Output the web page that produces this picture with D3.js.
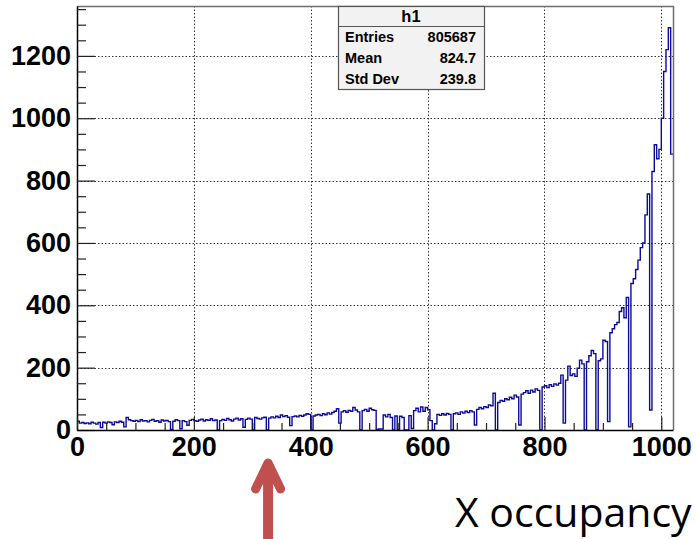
<!DOCTYPE html>
<html>
<head>
<meta charset="utf-8">
<script src="https://cdn.jsdelivr.net/npm/d3@7/dist/d3.min.js"></script>
<style>
  html, body { margin: 0; padding: 0; background: #fff; }
  svg { display: block; }
  .lab { font-family: "Liberation Sans", Arial, Helvetica, sans-serif; font-weight: bold; }
</style>
</head>
<body>
<svg id="chart" width="696" height="539"></svg>
<script>
// Histogram h1: occupancy per channel, 4-channel bins starting at 0
const binLow = 0;
const binWidth = 4;
const counts = [
  28, 22, 24, 21, 23, 20, 25, 22, 19, 24,
  8, 25, 22, 26, 24, 17, 26, 24, 28, 25,
  10, 40, 33, 30, 28, 31, 27, 33, 29, 30,
  26, 31, 34, 28, 30, 25, 32, 29, 31, 27,
  2, 28, 33, 30, 4, 30, 27, 15, 31, 34,
  30, 28, 32, 35, 29, 33, 31, 36, 30, 32,
  0, 30, 34, 31, 37, 33, 29, 35, 38, 32,
  36, 9, 34, 38, 35, 0, 40, 37, 35, 39,
  41, 0, 38, 42, 39, 44, 40, 48, 43, 46,
  41, 14, 43, 45, 42, 47, 44, 48, 52, 50,
  0, 45, 48, 50, 46, 52, 49, 55, 51, 56,
  60, 68, 22, 58, 62, 57, 63, 60, 72, 64,
  58, 0, 62, 66, 60, 70, 65, 63, 2, 3,
  3, 48, 42, 50, 40, 0, 45, 0, 44, 40,
  0, 0, 46, 5, 62, 70, 58, 74, 60, 72,
  65, 30, 0, 20, 50, 47, 52, 48, 53, 50,
  0, 52, 55, 50, 58, 54, 60, 56, 62, 58,
  16, 66, 72, 68, 75, 72, 80, 78, 118, 0,
  88, 95, 92, 100, 97, 105, 100, 112, 106, 16,
  115, 120, 126, 118, 128, 122, 132, 127, 0, 138,
  142, 136, 145, 140, 148, 144, 150, 176, 22, 160,
  205, 175, 180, 172, 198, 224, 212, 0, 219, 238,
  255, 245, 0, 222, 228, 288, 284, 27, 312, 325,
  338, 345, 380, 392, 360, 425, 10, 470, 485, 515,
  545, 585, 600, 690, 757, 64, 829, 915, 870, 900,
  1000, 1150, 1220, 1290, 885
];

// Axis ticks and labels
const xTicks = [0, 200, 400, 600, 800, 1000];
const xMinorTicks = [50, 100, 150, 250, 300, 350, 450, 500, 550, 650, 700, 750, 850, 900, 950];
const yTicks = [0, 200, 400, 600, 800, 1000, 1200];
const yMinorTicks = [50, 100, 150, 250, 300, 350, 450, 500, 550, 650, 700, 750, 850, 900, 950, 1050, 1100, 1150, 1250, 1300, 1350];
const yRangeMax = 1360;

// Statistics box
const statTitle = "h1";
const statNames = ["Entries", "Mean", "Std Dev"];
const statValues = ["805687", "824.7", "239.8"];

const xTitle = "X occupancy";

const frame = { left: 77, right: 673, top: 6, bottom: 430 };
const svg = d3.select("#chart");

const xMax = binLow + counts.length * binWidth;
const x = d3.scaleLinear().domain([binLow, xMax]).range([frame.left, frame.right]);
const y = d3.scaleLinear().domain([0, yRangeMax]).range([frame.bottom, frame.top]);

// dotted grid at major ticks
const grid = svg.append("g")
  .attr("stroke", "#333").attr("stroke-width", 1).attr("stroke-dasharray", "1.5,2");
grid.selectAll("line.gx").data(xTicks.filter(d => d > 0)).join("line")
  .attr("x1", d => Math.round(x(d)) + 0.5).attr("x2", d => Math.round(x(d)) + 0.5)
  .attr("y1", frame.top).attr("y2", frame.bottom);
grid.selectAll("line.gy").data(yTicks.filter(d => d > 0)).join("line")
  .attr("y1", d => Math.round(y(d)) + 0.5).attr("y2", d => Math.round(y(d)) + 0.5)
  .attr("x1", frame.left).attr("x2", frame.right);

// histogram outline
const steps = counts.map((c, i) => [binLow + i * binWidth, c]);
steps.push([xMax, counts[counts.length - 1]]);
const line = d3.line()
  .x(d => x(d[0]))
  .y(d => y(d[1]))
  .curve(d3.curveStepAfter);
svg.append("path")
  .datum(steps)
  .attr("fill", "none")
  .attr("stroke", "#0b0b98")
  .attr("stroke-width", 1.4)
  .attr("stroke-linejoin", "miter")
  .attr("d", line);

// frame top / right
svg.append("path")
  .attr("d", `M${frame.left},${frame.top + 0.5}H${frame.right + 0.5}V${frame.bottom}`)
  .attr("fill", "none").attr("stroke", "#6e6e6e").attr("stroke-width", 1.5);

// y axis: inward ticks
const yAxis = d3.axisLeft(y).tickValues(yTicks).tickSize(-18).tickSizeOuter(0)
  .tickPadding(6).tickFormat(d3.format("d"));
const gy = svg.append("g").attr("transform", `translate(${frame.left},0)`).call(yAxis);
gy.selectAll("text").attr("class", "lab").attr("font-size", 27).attr("fill", "#000");
const gyMinor = svg.append("g").attr("transform", `translate(${frame.left},0)`)
  .call(d3.axisLeft(y).tickValues(yMinorTicks).tickSize(-9).tickSizeOuter(0).tickFormat(""));
gyMinor.select(".domain").remove();

// x axis: inward ticks
const xAxis = d3.axisBottom(x).tickValues(xTicks).tickSize(-13).tickSizeOuter(0)
  .tickPadding(7).tickFormat(d3.format("d"));
const gx = svg.append("g").attr("transform", `translate(0,${frame.bottom})`).call(xAxis);
gx.selectAll("text").attr("class", "lab").attr("font-size", 27).attr("fill", "#000");
const gxMinor = svg.append("g").attr("transform", `translate(0,${frame.bottom})`)
  .call(d3.axisBottom(x).tickValues(xMinorTicks).tickSize(-7).tickSizeOuter(0).tickFormat(""));
gxMinor.select(".domain").remove();

[gy, gx, gyMinor, gxMinor].forEach(g => {
  g.selectAll(".domain").attr("stroke", "#000").attr("stroke-width", 1.5);
  g.selectAll(".tick line").attr("stroke", "#222").attr("stroke-width", 1.2);
});

// statistics box
const box = { x: 338, y: 6, w: 146, h: 83, head: 20 };
const gs = svg.append("g");
gs.append("rect").attr("x", box.x + 0.5).attr("y", box.y + 0.5).attr("width", box.w).attr("height", box.h)
  .attr("fill", "#f2f2f2").attr("stroke", "#555").attr("stroke-width", 1.2);
gs.append("line").attr("x1", box.x).attr("x2", box.x + box.w).attr("y1", box.y + box.head + 0.5).attr("y2", box.y + box.head + 0.5)
  .attr("stroke", "#555").attr("stroke-width", 1.2);
gs.append("text").attr("class", "lab").attr("x", box.x + box.w / 2).attr("y", 21.5)
  .attr("text-anchor", "middle").attr("font-size", 16.5).text(statTitle);
statNames.forEach((n, i) => {
  const by = 42 + i * 21;
  gs.append("text").attr("class", "lab").attr("x", box.x + 7).attr("y", by)
    .attr("font-size", 14.5).text(n);
  gs.append("text").attr("class", "lab").attr("x", box.x + box.w - 8).attr("y", by)
    .attr("text-anchor", "end").attr("font-size", 14.5).text(statValues[i]);
});

// marker arrow under the x axis
const arrowX = x(327);
const ga = svg.append("g").attr("stroke", "#c0504d").attr("fill", "none")
  .attr("stroke-linecap", "round").attr("stroke-linejoin", "round");
ga.append("line").attr("x1", arrowX).attr("x2", arrowX).attr("y1", 466).attr("y2", 545).attr("stroke-width", 10);
ga.append("polyline").attr("stroke-width", 9)
  .attr("points", `${arrowX - 12.5},489 ${arrowX},463 ${arrowX + 12.5},489`);

// axis title
svg.append("text").attr("x", 455).attr("y", 527)
  .attr("font-family", "'Open Sans', 'Noto Sans', sans-serif").attr("font-size", 41)
  .attr("fill", "#000").text(xTitle);
</script>
</body>
</html>
